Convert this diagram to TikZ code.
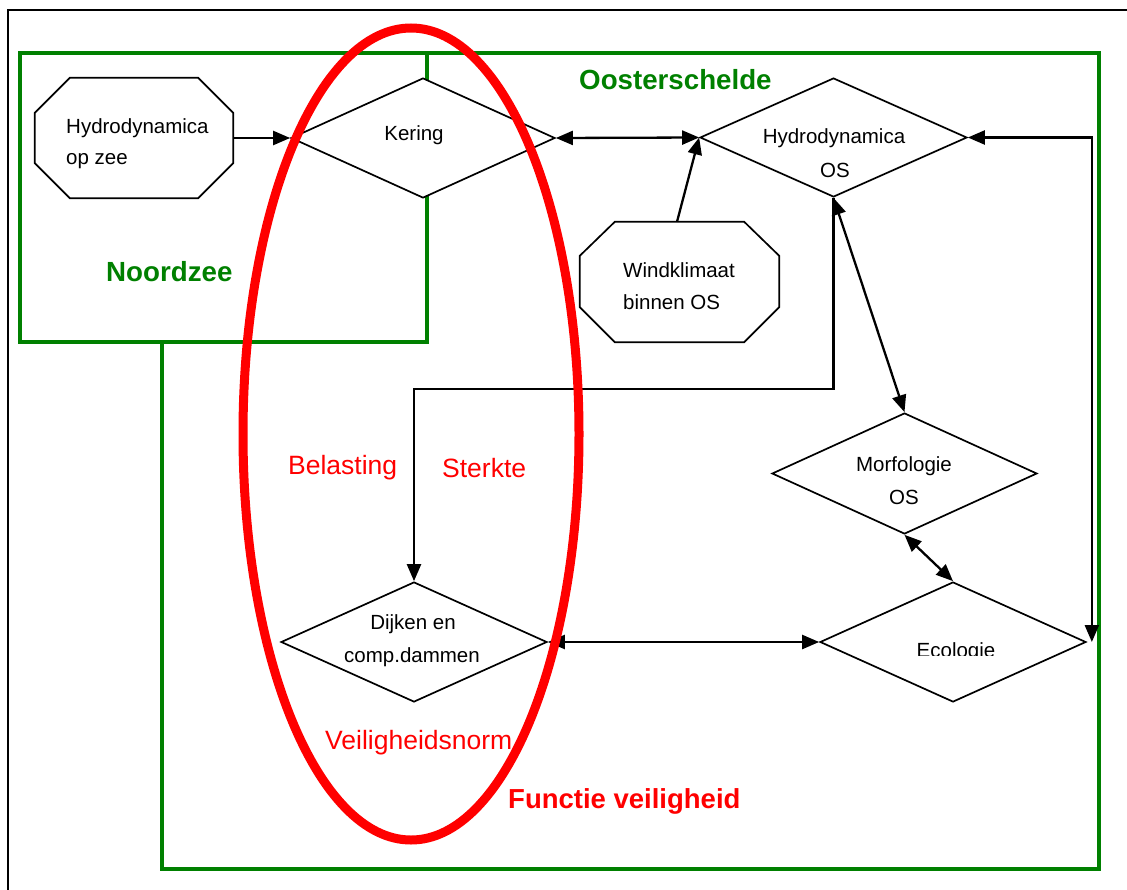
\documentclass[tikz,border=0pt]{standalone}
\usepackage{fontspec}
\setmainfont{Liberation Sans}
\usetikzlibrary{shapes.geometric,arrows.meta}
\definecolor{zonegreen}{RGB}{0,128,0}
\definecolor{markred}{RGB}{255,0,0}

\begin{document}
\begin{tikzpicture}[x=1pt,y=-1pt,
  decision/.style={diamond, draw=black, line width=1.7pt, fill=white, inner sep=0pt,
                   minimum width=266pt, minimum height=120pt},
  holder/.style={rectangle, inner sep=0pt, minimum height=120pt},
  outline/.style={draw=black, line width=1.7pt, fill=white, line join=miter},
  txt/.style={font=\fontsize{20.5}{24}\selectfont, inner sep=0pt},
  zonetxt/.style={font=\fontsize{27.7}{30}\selectfont\bfseries, text=zonegreen, inner sep=0pt, anchor=base west},
  redtxt/.style={font=\fontsize{26.5}{30}\selectfont, text=markred, inner sep=0pt, anchor=base west},
  tip/.tip={Triangle[length=17pt,width=14pt]},
  link/.style={line width=2.3pt, -tip},
  twoway/.style={line width=2.3pt, tip-tip},
  zone/.style={draw=zonegreen, line width=4.5pt, line join=miter}
]
\useasboundingbox (0,0) rectangle (1127,889);

% sheet frame
\draw[line width=2pt] (7.5,895) -- (7.5,10) -- (1135,10);

% regions
\draw[zone] (162,53) rectangle (1099,869);
\draw[zone, fill=white] (20,53) rectangle (427,342);

% octagonal inputs
\node[holder, minimum width=198pt] (hz) at (134,138) {};
\draw[outline] ([xshift=35pt]hz.north west) -- ([xshift=-35pt]hz.north east)
  -- ([yshift=-35pt]hz.north east) -- ([yshift=35pt]hz.south east)
  -- ([xshift=-35pt]hz.south east) -- ([xshift=35pt]hz.south west)
  -- ([yshift=35pt]hz.south west) -- ([yshift=-35pt]hz.north west) -- cycle;
\node[holder, minimum width=199pt] (wind) at (679.5,282) {};
\draw[outline] ([xshift=35pt]wind.north west) -- ([xshift=-35pt]wind.north east)
  -- ([yshift=-34pt]wind.north east) -- ([yshift=35pt]wind.south east)
  -- ([xshift=-35pt]wind.south east) -- ([xshift=35pt]wind.south west)
  -- ([yshift=35pt]wind.south west) -- ([yshift=-34pt]wind.north west) -- cycle;

% decision diamonds
\node[decision, minimum width=264pt] (kering) at (423,138) {};
\node[decision, minimum width=267pt, minimum height=119pt] (hos) at (833.5,137.5) {};
\node[decision, minimum width=265pt, minimum height=121pt] (morf) at (904.5,473.5) {};
\node[decision] (eco) at (953,642) {};
\node[decision] (dijk) at (414,642) {};

% connectors
\coordinate (turn) at (0,389);
\draw[link] (hz.east) -- (kering.west);
\draw[twoway] (kering.east) -- (hos.west);
\draw[link] ([xshift=-2.5pt]wind.north) -- (hos.west);
\draw[link] (hos.south) |- (dijk.north |- turn) -- (dijk.north);
\draw[twoway] (hos.south) -- (morf.north);
\draw[twoway] (morf.south) -- (eco.north);
\draw[twoway] (dijk.east) -- (eco.west);
\draw[twoway] (hos.east) -| ([xshift=5pt]eco.east);

% node texts
\node[txt, anchor=base west] (hz1) at (66,133) {Hydrodynamica};
\node[txt, anchor=base west] (hz2) at (66,164) {op zee};
\node[txt, anchor=base] (ker) at (414,140) {Kering};
\node[txt, anchor=base] (hos1) at (834,143) {Hydrodynamica};
\node[txt, anchor=base] (hos2) at (835,177) {OS};
\node[txt, anchor=base west] (wind1) at (623,277) {Windklimaat};
\node[txt, anchor=base west] (wind2) at (623,309) {binnen OS};
\node[txt, anchor=base] (morf1) at (904,471) {Morfologie};
\node[txt, anchor=base] (morf2) at (904,504) {OS};
\node[txt, anchor=base] (dijk1) at (413,629) {Dijken en};
\node[txt, anchor=base] (dijk2) at (412,662) {comp.dammen};
\begin{scope}
  \clip (880,600) rectangle (1040,655.5);
  \node[txt, anchor=base] (eco1) at (956,657.5) {Ecologie};
\end{scope}

% safety function marker
\draw[markred, line width=9pt] (411,434) ellipse [x radius=168, y radius=406];

% region and aspect labels
\node[zonetxt] (lblos) at (579,89) {Oosterschelde};
\node[zonetxt] (lblnz) at (106,281) {Noordzee};
\node[redtxt] (lblbel) at (288,474) {Belasting};
\node[redtxt] (lblst) at (442,477) {Sterkte};
\node[redtxt] (lblnorm) at (325,749) {Veiligheidsnorm};
\node[redtxt, font=\fontsize{27.5}{30}\selectfont\bfseries] (lblfv) at (508,808) {Functie veiligheid};
\end{tikzpicture}
\end{document}
